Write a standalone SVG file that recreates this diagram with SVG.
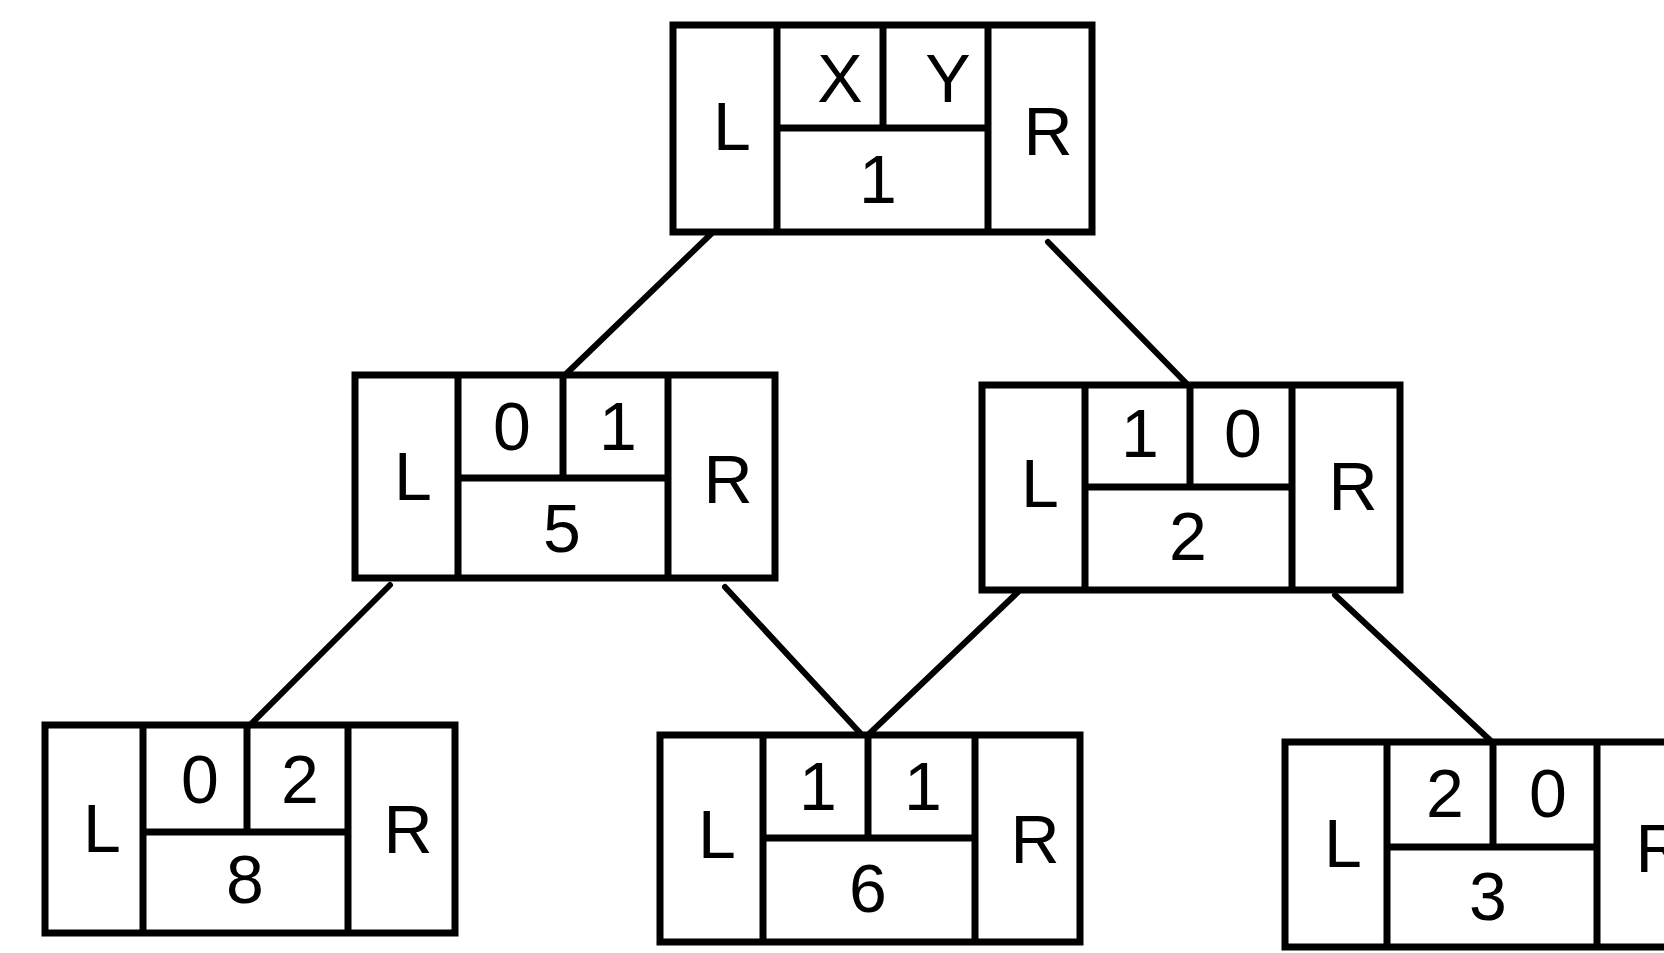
<svg xmlns="http://www.w3.org/2000/svg" width="1664" height="953" viewBox="0 0 1664 953">
<style>
  .box { fill: none; stroke: #000; stroke-width: 7; stroke-linejoin: miter; }
  .div { stroke: #000; stroke-width: 7; fill: none; }
  .edge { stroke: #000; stroke-width: 6; fill: none; stroke-linecap: round; }
  text { font-family: "Liberation Sans", Arial, sans-serif; font-size: 68px; fill: #000; text-anchor: middle; }
</style>
<rect width="1664" height="953" fill="#fff"/>
<g id="connectors">
  <line class="edge" x1="712" y1="233" x2="565" y2="375"/>
  <line class="edge" x1="1048" y1="242" x2="1187" y2="384"/>
  <line class="edge" x1="390" y1="585" x2="248" y2="727"/>
  <line class="edge" x1="725" y1="587" x2="862" y2="735"/>
  <line class="edge" x1="1018" y1="592" x2="868" y2="735"/>
  <line class="edge" x1="1335" y1="595" x2="1492" y2="742"/>
</g>
<g id="node1">
  <rect class="box" x="673" y="25" width="419" height="207"/>
  <line class="div" x1="777" y1="25" x2="777" y2="232"/>
  <line class="div" x1="988" y1="25" x2="988" y2="232"/>
  <line class="div" x1="777" y1="128" x2="988" y2="128"/>
  <line class="div" x1="883" y1="25" x2="883" y2="128"/>
  <text x="732" y="150">L</text>
  <text x="840" y="102">X</text>
  <text x="948" y="102">Y</text>
  <text x="1048" y="155">R</text>
  <text x="878" y="203">1</text>
</g>
<g id="node5">
  <rect class="box" x="355" y="375" width="420" height="203"/>
  <line class="div" x1="458" y1="375" x2="458" y2="578"/>
  <line class="div" x1="668" y1="375" x2="668" y2="578"/>
  <line class="div" x1="458" y1="478" x2="668" y2="478"/>
  <line class="div" x1="563" y1="375" x2="563" y2="478"/>
  <text x="413" y="500">L</text>
  <text x="512" y="450">0</text>
  <text x="618" y="450">1</text>
  <text x="728" y="503">R</text>
  <text x="562" y="552">5</text>
</g>
<g id="node2">
  <rect class="box" x="982" y="385" width="418" height="205"/>
  <line class="div" x1="1085" y1="385" x2="1085" y2="590"/>
  <line class="div" x1="1292" y1="385" x2="1292" y2="590"/>
  <line class="div" x1="1085" y1="487" x2="1292" y2="487"/>
  <line class="div" x1="1190" y1="385" x2="1190" y2="487"/>
  <text x="1040" y="507">L</text>
  <text x="1140" y="457">1</text>
  <text x="1243" y="457">0</text>
  <text x="1353" y="510">R</text>
  <text x="1188" y="560">2</text>
</g>
<g id="node8">
  <rect class="box" x="45" y="725" width="410" height="208"/>
  <line class="div" x1="143" y1="725" x2="143" y2="933"/>
  <line class="div" x1="348" y1="725" x2="348" y2="933"/>
  <line class="div" x1="143" y1="832" x2="348" y2="832"/>
  <line class="div" x1="247" y1="725" x2="247" y2="832"/>
  <text x="102" y="852">L</text>
  <text x="200" y="803">0</text>
  <text x="300" y="803">2</text>
  <text x="408" y="853">R</text>
  <text x="245" y="903">8</text>
</g>
<g id="node6">
  <rect class="box" x="660" y="735" width="420" height="207"/>
  <line class="div" x1="763" y1="735" x2="763" y2="942"/>
  <line class="div" x1="975" y1="735" x2="975" y2="942"/>
  <line class="div" x1="763" y1="838" x2="975" y2="838"/>
  <line class="div" x1="868" y1="735" x2="868" y2="838"/>
  <text x="717" y="858">L</text>
  <text x="818" y="810">1</text>
  <text x="923" y="810">1</text>
  <text x="1035" y="863">R</text>
  <text x="868" y="912">6</text>
</g>
<g id="node3">
  <rect class="box" x="1285" y="742" width="420" height="205"/>
  <line class="div" x1="1387" y1="742" x2="1387" y2="947"/>
  <line class="div" x1="1597" y1="742" x2="1597" y2="947"/>
  <line class="div" x1="1387" y1="847" x2="1597" y2="847"/>
  <line class="div" x1="1493" y1="742" x2="1493" y2="847"/>
  <text x="1343" y="867">L</text>
  <text x="1445" y="817">2</text>
  <text x="1548" y="817">0</text>
  <text x="1660" y="872">R</text>
  <text x="1488" y="920">3</text>
</g>
</svg>
